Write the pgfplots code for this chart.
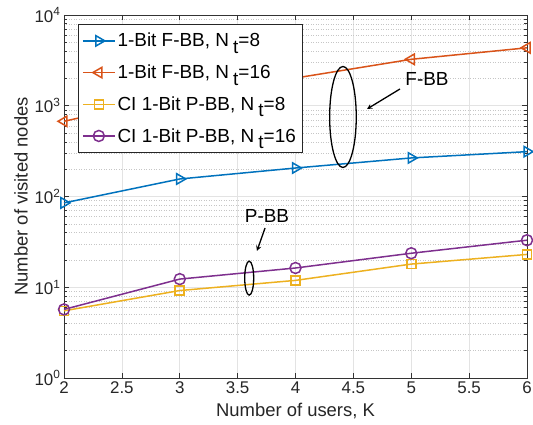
\documentclass[border=0pt]{standalone}
\usepackage{fontspec}
\setmainfont{Liberation Sans}
\usepackage{pgfplots}
\pgfplotsset{compat=1.18}
\definecolor{mblue}{rgb}{0,0.447,0.741}
\definecolor{morange}{rgb}{0.85,0.325,0.098}
\definecolor{myellow}{rgb}{0.929,0.694,0.125}
\definecolor{mpurple}{rgb}{0.494,0.184,0.556}
\newcommand{\Nt}[1]{N\hspace{0.22em}\raisebox{-0.65ex}{t}=#1}

\begin{document}
\begin{tikzpicture}
\begin{axis}[
    scale only axis,
    width=463bp, height=363bp,
    xmin=2, xmax=6,
    ymode=log, ymin=1, ymax=10000,
    xtick={2,2.5,3,3.5,4,4.5,5,5.5,6},
    xticklabels={2,2.5,3,3.5,4,4.5,5,5.5,6},
    ytick={1,10,100,1000,10000},
    yticklabels={10\textsuperscript{0},10\textsuperscript{1},10\textsuperscript{2},10\textsuperscript{3},10\textsuperscript{4}},
    tick label style={font=\fontsize{17}{20}\selectfont, text=black!85},
    label style={font=\fontsize{18.5}{22}\selectfont, text=black!85},
    xlabel={Number of users, K},
    ylabel={Number of visited nodes},
    xlabel style={at={(axis description cs:0.5,0)}, yshift=-33bp, anchor=center},
    ylabel style={at={(axis description cs:-0.093,0.5)}, anchor=center, rotate=0},
    grid=both,
    major grid style={gray!22, line width=0.6bp},
    minor grid style={gray!45, line width=0.5bp, dotted},
    axis line style={black!80, line width=0.6bp},
    tick style={black!80, line width=0.6bp},
    tick align=inside,
    major tick length=5bp,
    minor tick length=3bp,
    clip=false,
    legend style={at={(0.03,0.975)}, anchor=north west, draw=black!85,
        font=\fontsize{19}{22}\selectfont, row sep=12.5bp, inner xsep=4bp, inner ysep=7bp,
        cells={anchor=west}},
    legend image code/.code={\draw[mark repeat=2,mark phase=2] plot coordinates {(0bp,0bp)(16bp,0bp)(32bp,0bp)};},
]
\addplot[mblue, line width=1.5bp, mark=triangle, mark size=6bp, mark options={rotate=-90, line width=1.5bp}]
    coordinates {(2,85) (3,156) (4,206) (5,266) (6,312)};
\addlegendentry{1-Bit F-BB, \Nt{8}}
\addplot[morange, line width=1.5bp, mark=triangle, mark size=6bp, mark options={rotate=90, line width=1.5bp}]
    coordinates {(2,674) (3,1300) (4,2020) (5,3250) (6,4350)};
\addlegendentry{1-Bit F-BB, \Nt{16}}
\addplot[myellow, line width=1.5bp, mark=square, mark size=4.5bp, mark options={line width=1.5bp}]
    coordinates {(2,5.5) (3,9.2) (4,11.9) (5,18) (6,23)};
\addlegendentry{CI 1-Bit P-BB, \Nt{8}}
\addplot[mpurple, line width=1.5bp, mark=o, mark size=5.5bp, mark options={line width=1.5bp}]
    coordinates {(2,5.7) (3,12.3) (4,16.3) (5,23.7) (6,33)};
\addlegendentry{CI 1-Bit P-BB, \Nt{16}}

\draw[line width=1.3bp] (axis cs:4.41,752) ellipse [x radius=13.3bp, y radius=50.5bp];
\draw[line width=1.3bp,-stealth] (axis cs:4.903,1531) -- (axis cs:4.618,921);
\node[font=\fontsize{19}{22}\selectfont] at (axis cs:5.136,1972) {F-BB};
\draw[line width=1.3bp] (axis cs:3.60,12.6) ellipse [x radius=4.5bp, y radius=17bp];
\draw[line width=1.3bp,-stealth] (axis cs:3.737,45) -- (axis cs:3.667,25.1);
\node[font=\fontsize{19}{22}\selectfont] at (axis cs:3.754,61) {P-BB};
\end{axis}
\pgfresetboundingbox
\path (-64bp,-47bp) rectangle (469bp,378bp);
\end{tikzpicture}
\end{document}
